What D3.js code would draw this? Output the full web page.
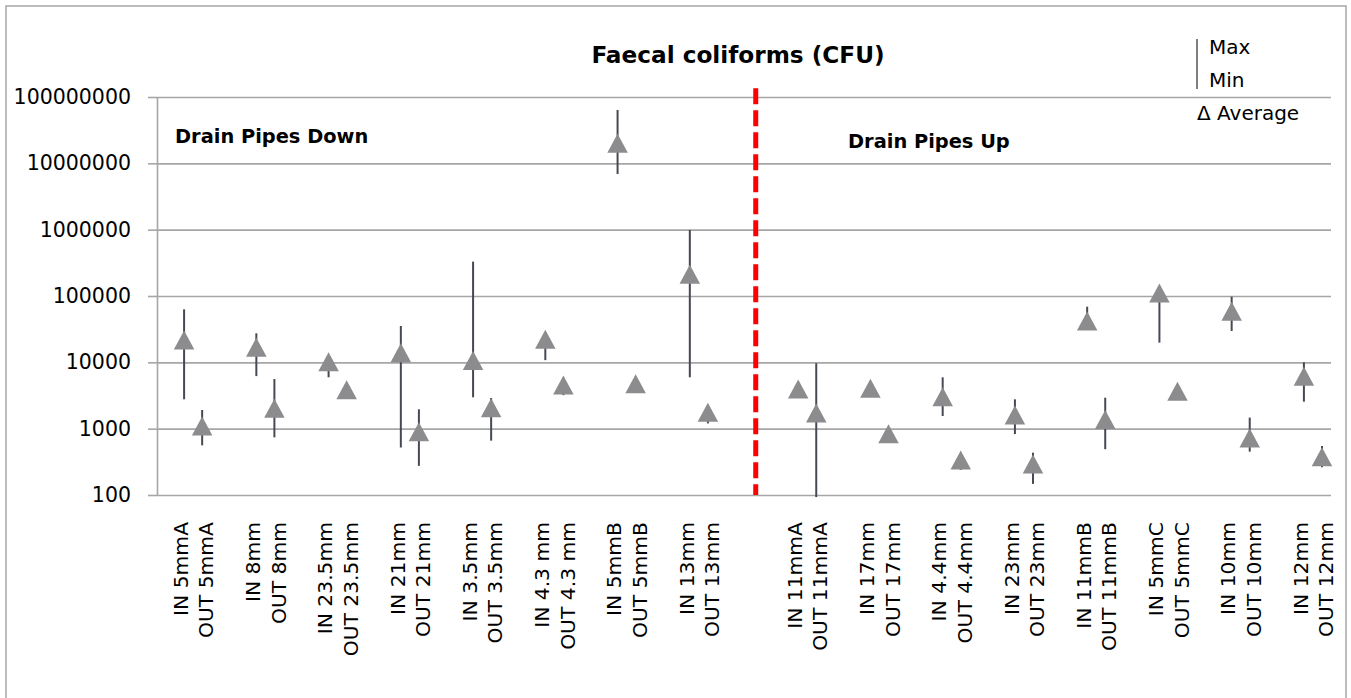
<!DOCTYPE html>
<html>
<head>
<meta charset="utf-8">
<script src="https://cdn.jsdelivr.net/npm/d3@7"></script>
<style>
  body { margin: 0; background: #fff; }
  svg { display: block; font-family: "DejaVu Sans", sans-serif; }
</style>
</head>
<body>
<svg id="chart" width="1351" height="698"></svg>
<script>
/* Faecal coliforms (CFU): average (triangle) with min/max bars, log scale. */

// pipe sizes, left block = drain pipes down, right block = drain pipes up
const downPipes = ["5mmA", "8mm", "23.5mm", "21mm", "3.5mm", "4.3 mm", "5mmB", "13mm"];
const upPipes = ["11mmA", "17mm", "4.4mm", "23mm", "11mmB", "5mmC", "10mm", "12mm"];

// values per pipe, IN then OUT
const inAvg = [21700, 16900, 10200, 14000, 10700, 22200, 20000000, 212000,
  3960, 4060, 3040, 1610, 42000, 111000, 58800, 6160];
const inMax = [63000, 27400, 12000, 35300, 330000, 25000, 63700000, 990000,
  4100, 4200, 5950, 2770, 69000, 115000, 97700, 10000];
const inMin = [2770, 6200, 5950, 520, 2970, 10800, 6900000, 5950,
  3800, 3900, 1550, 830, 38000, 19800, 29700, 2550];
const outAvg = [1100, 2030, 3870, 900, 2070, 4550, 4770, 1770,
  1720, 840, 337, 293, 1380, 3660, 723, 378];
const outMax = [1910, 5600, 4000, 1960, 2900, 4800, 5000, 1900,
  9700, 880, 360, 434, 2930, 3800, 1470, 548];
const outMin = [560, 740, 3700, 275, 660, 3200, 4500, 1200,
  93, 800, 240, 147, 490, 3500, 450, 262];

const yTicks = [100, 1000, 10000, 100000, 1000000, 10000000, 100000000];
const dividerTop = 135000000;

(function () {
  const W = 1351, H = 698;
  const margin = { top: 97, right: 20, bottom: 203, left: 157 };
  const svg = d3.select("#chart");

  // frame
  svg.append("rect")
    .attr("x", 6).attr("y", 6).attr("width", W - 11).attr("height", H + 10)
    .attr("fill", "none").attr("stroke", "#a6a6a6").attr("stroke-width", 1.5);

  // category slots: blank gaps between IN/OUT pairs
  const pipes = downPipes.concat(upPipes);
  const slots = ["b0"];
  pipes.forEach((p, i) => {
    if (i < downPipes.length) slots.push("IN " + p, "OUT " + p, "b" + i + "a", "b" + i + "b");
    else slots.push("b" + i + "a", "b" + i + "b", "IN " + p, "OUT " + p);
  });

  const x = d3.scaleBand().domain(slots).range([margin.left, W - margin.right]);
  const y = d3.scaleLog().domain([100, 100000000]).range([H - margin.bottom, margin.top]);
  const cx = k => x(k) + x.bandwidth() / 2;

  const points = [];
  pipes.forEach((p, i) => {
    points.push({ key: "IN " + p, avg: inAvg[i], max: inMax[i], min: inMin[i] });
    points.push({ key: "OUT " + p, avg: outAvg[i], max: outMax[i], min: outMin[i] });
  });

  // gridlines
  svg.append("g")
    .attr("transform", `translate(${margin.left},0)`)
    .call(d3.axisLeft(y).tickValues(yTicks).tickSize(-(W - margin.left - margin.right)).tickFormat(""))
    .call(g => g.select(".domain").remove())
    .call(g => g.selectAll("line").attr("stroke", "#a6a6a6").attr("stroke-width", 1.6));

  // y axis
  svg.append("g")
    .attr("transform", `translate(${margin.left},0)`)
    .call(d3.axisLeft(y).tickValues(yTicks).tickSize(9).tickSizeOuter(0).tickPadding(17).tickFormat(d3.format("d")))
    .call(g => g.select(".domain").attr("stroke", "#a6a6a6").attr("stroke-width", 1.6))
    .call(g => g.selectAll("line").attr("stroke", "#a6a6a6").attr("stroke-width", 1.6))
    .call(g => g.selectAll("text")
      .attr("font-family", "DejaVu Sans").attr("font-size", 20.5).attr("fill", "#000"));

  // divider between the two blocks
  const divX = x("b8a") + x.bandwidth() * 0.15;
  svg.append("line")
    .attr("x1", divX).attr("x2", divX)
    .attr("y1", y(dividerTop)).attr("y2", y(100))
    .attr("stroke", "#ff0000").attr("stroke-width", 5)
    .attr("stroke-dasharray", "16,6");

  // min-max bars
  svg.append("g").selectAll("line")
    .data(points).join("line")
    .attr("x1", d => cx(d.key)).attr("x2", d => cx(d.key))
    .attr("y1", d => y(d.max)).attr("y2", d => y(d.min))
    .attr("stroke", "#454a52").attr("stroke-width", 2);

  // average markers
  const tw = 20.5, th = 19;
  svg.append("g").selectAll("path")
    .data(points).join("path")
    .attr("d", d => {
      const px = cx(d.key), py = y(d.avg);
      return `M${px},${py - th / 2}L${px + tw / 2},${py + th / 2}L${px - tw / 2},${py + th / 2}Z`;
    })
    .attr("fill", "#8c8c8e");

  // category labels, two lines per pipe
  const labels = svg.append("g")
    .attr("font-family", "DejaVu Sans").attr("font-size", 20.3).attr("fill", "#000");
  pipes.forEach(p => {
    const mid = (cx("IN " + p) + cx("OUT " + p)) / 2;
    [["IN " + p, -12.75], ["OUT " + p, 12.75]].forEach(([t, off]) => {
      labels.append("text")
        .attr("transform", `translate(${mid + off + 7.5},${H - margin.bottom + 27}) rotate(-90)`)
        .attr("text-anchor", "end")
        .text(t);
    });
  });

  // title
  svg.append("text")
    .attr("x", 738).attr("y", 63)
    .attr("text-anchor", "middle")
    .attr("font-size", 23.2).attr("font-weight", "bold")
    .text("Faecal coliforms (CFU)");

  // block labels
  svg.append("text").attr("x", 175).attr("y", 143)
    .attr("font-size", 19.4).attr("font-weight", "bold").text("Drain Pipes Down");
  svg.append("text").attr("x", 848).attr("y", 148)
    .attr("font-size", 19.4).attr("font-weight", "bold").text("Drain Pipes Up");

  // legend
  const lg = svg.append("g").attr("font-size", 20);
  lg.append("line").attr("x1", 1197).attr("x2", 1197).attr("y1", 39).attr("y2", 89)
    .attr("stroke", "#7f7f7f").attr("stroke-width", 2);
  lg.append("text").attr("x", 1209).attr("y", 54).text("Max");
  lg.append("text").attr("x", 1209).attr("y", 87).text("Min");
  lg.append("text").attr("x", 1197).attr("y", 120).text("Δ Average");
})();
</script>
</body>
</html>
